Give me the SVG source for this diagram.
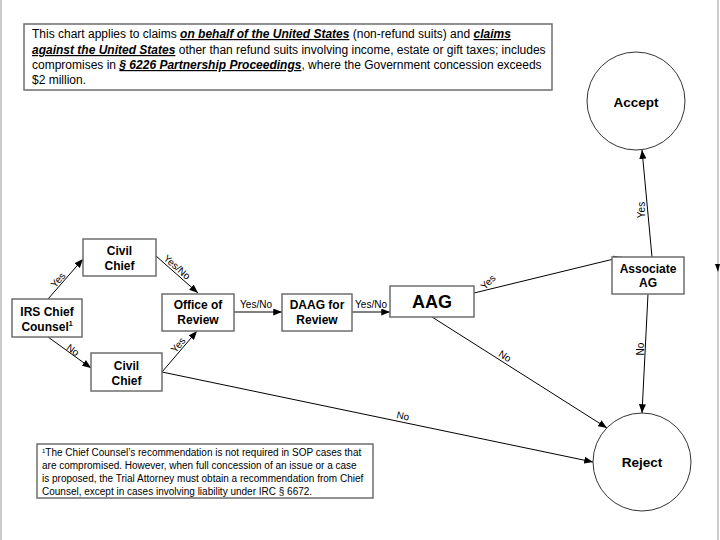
<svg xmlns="http://www.w3.org/2000/svg" width="720" height="540" viewBox="0 0 720 540">
<style>
text{font-family:"Liberation Sans",Arial,sans-serif;fill:#000}
.box{fill:#fff;stroke:#6e6e6e;stroke-width:1.5}
.circ{fill:#fff;stroke:#333;stroke-width:1}
.nt{font-size:12px;font-weight:bold;text-anchor:middle;dominant-baseline:central}
.big{font-size:18px}
.circt{font-size:13.5px}
.lab{font-size:10px;text-anchor:middle;dominant-baseline:central}
.line{stroke:#000;stroke-width:1;fill:none}
.arr{stroke:#000;stroke-width:1;fill:none;marker-end:url(#ah)}
.em{font-weight:bold;font-style:italic;text-decoration:underline}
.note{font-size:12px}
.fn{font-size:10px}
</style>
<defs>
<marker id="ah" viewBox="0 0 10 8" refX="10" refY="4" markerWidth="9" markerHeight="7" markerUnits="userSpaceOnUse" orient="auto">
<path d="M0,0 L10,4 L0,8 Z" fill="#000"/>
</marker>
</defs>
<rect width="720" height="540" fill="#fff"/>
<g id="frame">
<line x1="1" y1="0" x2="1" y2="540" stroke="#999" stroke-width="1"/>
<line x1="718" y1="0" x2="718" y2="540" stroke="#999" stroke-width="1"/>
<path d="M715,264 L720,264 L718,272 Z" fill="#000"/>
</g>
<g id="intro">
<rect class="box" x="24" y="24" width="528" height="66"/>
<text class="note" x="32" y="38">This chart applies to claims <tspan class="em">on behalf of the United States</tspan> (non-refund suits) and <tspan class="em">claims</tspan></text>
<text class="note" x="32" y="54"><tspan class="em">against the United States</tspan> other than refund suits involving income, estate or gift taxes; includes</text>
<text class="note" x="32" y="69">compromises in <tspan class="em">§ 6226 Partnership Proceedings</tspan>, where the Government concession exceeds</text>
<text class="note" x="32" y="84">$2 million.</text>
</g>
<g id="connectors">
<line class="arr" x1="48" y1="299" x2="83" y2="259"/>
<line class="arr" x1="48" y1="337" x2="91" y2="368"/>
<line class="arr" x1="156" y1="256" x2="198" y2="293"/>
<line class="arr" x1="162" y1="372" x2="197" y2="331"/>
<line class="arr" x1="162" y1="372" x2="593" y2="462"/>
<line class="arr" x1="234" y1="312" x2="282" y2="312"/>
<line class="arr" x1="352" y1="312" x2="390" y2="312"/>
<line class="arr" x1="474" y1="293" x2="622" y2="257"/>
<line class="arr" x1="432" y1="317" x2="607" y2="428"/>
<line class="arr" x1="652" y1="257" x2="642" y2="150"/>
<line class="arr" x1="648" y1="294" x2="642" y2="413"/>
<text class="lab" transform="translate(58,280) rotate(-49)">Yes</text>
<text class="lab" transform="translate(73,350) rotate(36)">No</text>
<text class="lab" transform="translate(177,267) rotate(41)">Yes/No</text>
<text class="lab" transform="translate(178,345) rotate(-50)">Yes</text>
<text class="lab" x="256" y="304">Yes/No</text>
<text class="lab" x="371" y="304">Yes/No</text>
<text class="lab" transform="translate(488,282) rotate(-45)">Yes</text>
<text class="lab" transform="translate(505,356) rotate(33)">No</text>
<text class="lab" transform="translate(403,416) rotate(12)">No</text>
<text class="lab" transform="translate(641,210) rotate(-90)">Yes</text>
<text class="lab" transform="translate(640,349) rotate(-90)">No</text>
</g>
<g id="irs">
<rect class="box" x="12" y="299" width="70" height="38"/>
<text class="nt" x="47" y="312">IRS Chief</text>
<text class="nt" x="47" y="327">Counsel<tspan font-size="7" dy="-4">1</tspan></text>
</g>
<g id="civil-top">
<rect class="box" x="83" y="239" width="73" height="37"/>
<text class="nt" x="119.5" y="251">Civil</text>
<text class="nt" x="119.5" y="266">Chief</text>
</g>
<g id="civil-bottom">
<rect class="box" x="91" y="353" width="71" height="38"/>
<text class="nt" x="126.5" y="366">Civil</text>
<text class="nt" x="126.5" y="381">Chief</text>
</g>
<g id="office">
<rect class="box" x="162" y="294" width="72" height="37"/>
<text class="nt" x="198" y="305">Office of</text>
<text class="nt" x="198" y="320">Review</text>
</g>
<g id="daag">
<rect class="box" x="282" y="294" width="70" height="37"/>
<text class="nt" x="317" y="305">DAAG for</text>
<text class="nt" x="317" y="320">Review</text>
</g>
<g id="aag">
<rect class="box" x="390" y="286" width="84" height="31"/>
<text class="nt big" x="432" y="302">AAG</text>
</g>
<g id="associate">
<rect class="box" x="612" y="257" width="72" height="37"/>
<text class="nt" x="648" y="269">Associate</text>
<text class="nt" x="648" y="283">AG</text>
</g>
<g id="accept">
<circle class="circ" cx="636" cy="101" r="49"/>
<text class="nt circt" x="636" y="102">Accept</text>
</g>
<g id="reject">
<circle class="circ" cx="642" cy="462" r="49"/>
<text class="nt circt" x="642" y="462">Reject</text>
</g>
<g id="footnote">
<rect class="box" x="37" y="444" width="336" height="54"/>
<text class="fn" x="42" y="456"><tspan font-size="6" dy="-3">1</tspan><tspan dy="3">The Chief Counsel’s recommendation is not required in SOP cases that</tspan></text>
<text class="fn" x="42" y="469">are compromised. However, when full concession of an issue or a case</text>
<text class="fn" x="42" y="482">is proposed, the Trial Attorney must obtain a recommendation from Chief</text>
<text class="fn" x="42" y="495">Counsel, except in cases involving liability under IRC § 6672.</text>
</g>
</svg>
